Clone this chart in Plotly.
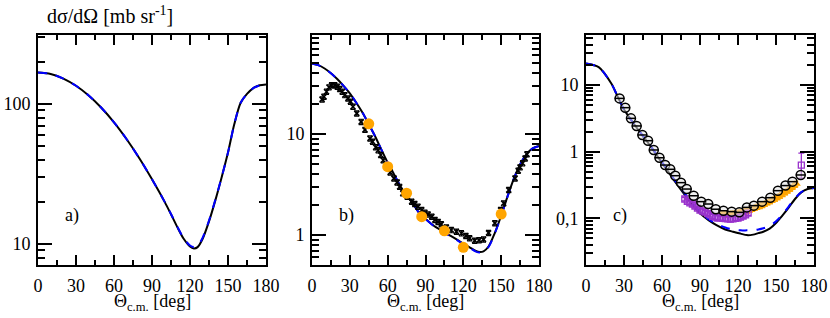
import plotly.graph_objects as go

# ---------------- data ----------------
# panel a) theory curves
a_theta = [0, 10, 20, 30, 40, 50, 60, 70, 80, 90, 100, 105, 110, 115, 120, 123, 126, 130, 135, 140, 145, 150, 155, 160, 165, 170, 175, 180]
a_black = [168, 164, 152, 135, 115, 94, 74, 56, 41, 29, 20, 16.3, 13.2, 10.9, 9.6, 9.3, 9.5, 10.9, 14.5, 20.5, 30, 45, 72, 102, 118, 130, 136, 138]
a_blue = [168, 164, 152, 135, 115, 94, 74, 56, 41, 29, 20, 16.4, 13.3, 11.0, 9.75, 9.5, 9.7, 11.1, 14.7, 20.7, 30, 45, 72, 102, 118, 130, 136, 138]

# panel b) theory curves
b_theta = [0, 5, 10, 15, 20, 25, 30, 35, 40, 45, 50, 55, 60, 65, 70, 75, 80, 85, 90, 95, 100, 105, 110, 115, 120, 125, 130, 133, 136, 140, 145, 150, 155, 160, 165, 170, 175, 180]
b_black = [50, 48, 44.5, 40, 35, 30, 25.3, 20.5, 16.3, 12.5, 9.5, 7.0, 5.2, 4.0, 3.05, 2.45, 2.05, 1.65, 1.45, 1.28, 1.16, 1.06, 0.98, 0.90, 0.82, 0.755, 0.695, 0.68, 0.69, 0.77, 1.05, 1.55, 2.4, 3.6, 5.0, 6.3, 7.2, 7.6]
b_blue = [50, 48, 44.5, 40, 35, 30, 25.3, 20.5, 16.3, 12.5, 9.5, 7.0, 5.2, 4.0, 3.05, 2.45, 2.05, 1.65, 1.44, 1.27, 1.15, 1.05, 0.97, 0.89, 0.81, 0.745, 0.685, 0.67, 0.68, 0.76, 1.04, 1.55, 2.4, 3.6, 5.0, 6.3, 7.2, 7.6]

# panel b) experimental data (crosses)
b_exp_theta = [8, 9.5, 11.5, 13.5, 15.5, 18, 20, 22, 24, 26, 28.5, 30.5, 32.5, 35.5, 39, 42, 46, 48, 50.5, 52.5, 54.5, 56.5, 59.5, 62, 65, 67.5, 69.5, 72, 75.5, 79, 81.5, 84, 87, 89.5, 92, 95, 97.5, 100, 102.5, 106.5, 110.5, 114.5, 118.5, 122, 125, 129, 132.5, 136, 140, 145, 149.5, 152, 156, 161, 163.5, 165, 167, 169, 170.5]
b_exp_val = [22.0, 23.4, 26.2, 29.0, 30.5, 30.5, 29.4, 27.9, 26.2, 24.3, 22.5, 20.9, 18.6, 16.0, 13.2, 11.0, 9.06, 8.4, 7.4, 6.9, 6.2, 5.5, 4.7, 4.17, 3.64, 3.32, 3.0, 2.59, 2.4, 2.14, 2.03, 1.91, 1.77, 1.66, 1.60, 1.52, 1.41, 1.35, 1.28, 1.19, 1.12, 1.08, 1.04, 0.98, 0.93, 0.88, 0.89, 0.906, 1.05, 1.31, 1.77, 2.06, 2.79, 3.64, 4.33, 4.68, 5.13, 5.74, 6.3]

# panel b) orange points
b_or_theta = [45, 60, 75, 87, 105, 120, 150]
b_or_val = [12.6, 4.75, 2.59, 1.52, 1.10, 0.755, 1.61]

# panel c) theory curves
c_theta = [0, 10, 20, 25, 30, 37.5, 45, 50, 57, 64, 70, 77, 84, 90, 97, 103, 110, 116, 122, 127, 132, 136, 140, 145, 150, 155, 160, 165, 170, 175, 180]
c_black = [21, 18.5, 10.5, 6.7, 4.3, 2.67, 1.7, 1.28, 0.82, 0.53, 0.36, 0.238, 0.16, 0.119, 0.093, 0.079, 0.068, 0.063, 0.059, 0.056, 0.057, 0.06, 0.063, 0.07, 0.085, 0.11, 0.145, 0.195, 0.245, 0.275, 0.285]
c_blue = [21, 18.5, 10.5, 6.7, 4.3, 2.67, 1.72, 1.30, 0.84, 0.55, 0.375, 0.25, 0.167, 0.124, 0.096, 0.083, 0.073, 0.068, 0.066, 0.066, 0.066, 0.068, 0.071, 0.077, 0.09, 0.113, 0.15, 0.2, 0.248, 0.275, 0.285]

# panel c) black circles
c_circ_theta = [26.5, 31, 35.5, 40, 44.5, 49, 53.5, 58, 62.5, 66.5, 70.5, 75, 79.5, 85, 91, 96.5, 102.5, 108.5, 115, 121, 127, 132.5, 139, 145.5, 151.5, 157.5, 163, 169.5]
c_circ_val = [6.3, 4.57, 3.16, 2.43, 1.78, 1.46, 1.06, 0.81, 0.63, 0.544, 0.436, 0.343, 0.275, 0.218, 0.178, 0.164, 0.137, 0.130, 0.126, 0.123, 0.146, 0.155, 0.178, 0.204, 0.26, 0.31, 0.355, 0.447]

# panel c) purple squares
c_pur_theta = [78, 80, 82, 84, 86, 88, 90, 92, 94, 96, 98, 100, 102, 104, 106, 108, 110, 112, 114, 116, 118, 120, 122, 124, 126, 128, 170]
c_pur_val = [0.195, 0.18, 0.17, 0.163, 0.153, 0.142, 0.133, 0.128, 0.124, 0.118, 0.113, 0.107, 0.104, 0.101, 0.102, 0.100, 0.099, 0.098, 0.097, 0.098, 0.100, 0.101, 0.104, 0.108, 0.113, 0.12, 0.63]
c_pur_errp = [0.012, 0.011, 0.011, 0.010, 0.010, 0.009, 0.009, 0.009, 0.008, 0.008, 0.008, 0.008, 0.008, 0.008, 0.008, 0.008, 0.008, 0.008, 0.008, 0.008, 0.008, 0.008, 0.008, 0.008, 0.009, 0.009, 0.32]
c_pur_errm = [0.012, 0.011, 0.011, 0.010, 0.010, 0.009, 0.009, 0.009, 0.008, 0.008, 0.008, 0.008, 0.008, 0.008, 0.008, 0.008, 0.008, 0.008, 0.008, 0.008, 0.008, 0.008, 0.008, 0.008, 0.009, 0.009, 0.23]

# panel c) orange triangles
c_or_theta = [106, 108, 110, 112, 114, 116, 118, 120, 122, 124, 126, 128, 130, 132, 134, 136, 138, 140, 142, 144, 146, 148, 150, 152, 154, 156, 158, 160, 162, 164, 166]
c_or_val = [0.118, 0.117, 0.116, 0.115, 0.116, 0.117, 0.118, 0.12, 0.122, 0.125, 0.128, 0.132, 0.136, 0.14, 0.145, 0.15, 0.155, 0.16, 0.168, 0.175, 0.183, 0.192, 0.2, 0.21, 0.222, 0.235, 0.25, 0.265, 0.285, 0.305, 0.33]

# axis tick labels
x_ticks = [0, 30, 60, 90, 120, 150, 180]
a_yticks = [10, 100]
a_yticktext = ["10", "100"]
b_yticks = [1, 10]
b_yticktext = ["1", "10"]
c_yticks = [0.1, 1, 10]
c_yticktext = ["0,1", "1", "10"]

# ---------------- figure ----------------
W, H = 830, 318
FONT = "Liberation Serif"
ORANGE = "#FFA500"
PURPLE = "#9932CC"
BLUE = "#0000FF"

fig = go.Figure()

def curve(x, y, color, dash, ax):
    fig.add_trace(go.Scatter(x=x, y=y, mode="lines", line=dict(color=color, width=2, dash=dash, shape="spline", smoothing=0.8),
                             xaxis="x" + ax, yaxis="y" + ax, showlegend=False, hoverinfo="skip"))

# panel a
curve(a_theta, a_black, "black", "solid", "")
curve(a_theta, a_blue, BLUE, "dash", "")

# panel b
curve(b_theta, b_black, "black", "solid", "2")
curve(b_theta, b_blue, BLUE, "dash", "2")
fig.add_trace(go.Scatter(x=b_exp_theta, y=b_exp_val, mode="markers",
                         marker=dict(symbol="x-thin", size=5, line=dict(color="black", width=1.6)),
                         error_y=dict(type="percent", value=6, color="black", thickness=1.2, width=2.5),
                         xaxis="x2", yaxis="y2", showlegend=False))
fig.add_trace(go.Scatter(x=b_or_theta, y=b_or_val, mode="markers",
                         marker=dict(symbol="circle", size=11, color=ORANGE, line=dict(width=0)),
                         xaxis="x2", yaxis="y2", showlegend=False))

# panel c
curve(c_theta, c_black, "black", "solid", "3")
curve(c_theta, c_blue, BLUE, "dash", "3")
fig.add_trace(go.Scatter(x=c_or_theta, y=c_or_val, mode="markers",
                         marker=dict(symbol="triangle-up", size=8, color=ORANGE, line=dict(width=0)),
                         error_y=dict(type="percent", value=9, color=ORANGE, thickness=1.5, width=2),
                         xaxis="x3", yaxis="y3", showlegend=False))
fig.add_trace(go.Scatter(x=c_pur_theta, y=c_pur_val, mode="markers",
                         marker=dict(symbol="square-open", size=6, color=PURPLE, line=dict(color=PURPLE, width=1.3)),
                         error_y=dict(type="data", array=c_pur_errp, arrayminus=c_pur_errm, color=PURPLE, thickness=1.3, width=3),
                         xaxis="x3", yaxis="y3", showlegend=False))
fig.add_trace(go.Scatter(x=c_circ_theta, y=c_circ_val, mode="markers",
                         marker=dict(symbol="circle", size=9, color="rgba(225,225,225,0.55)", line=dict(color="black", width=1.5)),
                         xaxis="x3", yaxis="y3", showlegend=False))
fig.add_trace(go.Scatter(x=c_circ_theta, y=c_circ_val, mode="markers",
                         marker=dict(symbol="line-ew", size=7, line=dict(color="black", width=1.5)),
                         xaxis="x3", yaxis="y3", showlegend=False))

# ---------------- axes ----------------
def px_x(a, b):
    return [a / W, b / W]

ydom = [1 - 265 / H, 1 - 35 / H]
xdoms = [px_x(38, 266), px_x(312, 539), px_x(586, 814)]

tickfont = dict(family=FONT, size=18, color="black")

def xaxis(dom, anchor):
    return dict(domain=dom, anchor=anchor, range=[0, 180], tickmode="array", tickvals=x_ticks,
                ticks="inside", ticklen=10, tickwidth=1.5, tickcolor="black",
                minor=dict(ticks="inside", ticklen=5, tickwidth=1.5, tickcolor="black", tickmode="linear", tick0=0, dtick=15),
                showline=True, linewidth=1.8, linecolor="black", mirror="allticks", automargin=False,
                showgrid=False, zeroline=False, tickfont=tickfont, ticklabelstandoff=3)

def minor_vals(lo_exp, hi_exp):
    return [m * 10 ** e for e in range(lo_exp, hi_exp) for m in range(2, 10)]

def yaxis(dom, anchor, rng, tv, tt, minors):
    return dict(domain=dom, anchor=anchor, type="log", range=rng, tickmode="array", tickvals=tv, ticktext=tt,
                ticks="inside", ticklen=14, tickwidth=1.5, tickcolor="black",
                minor=dict(ticks="inside", ticklen=7, tickwidth=1.5, tickcolor="black", tickmode="array", tickvals=minors),
                showline=True, linewidth=1.8, linecolor="black", mirror="allticks", automargin=False,
                showgrid=False, zeroline=False, tickfont=tickfont, ticklabelstandoff=2)

fig.update_layout(
    template="none",
    width=W, height=H,
    margin=dict(l=0, r=0, t=0, b=0, pad=0, autoexpand=False),
    paper_bgcolor="white", plot_bgcolor="white",
    font=dict(family=FONT, color="black"),
    xaxis=xaxis(xdoms[0], "y"),
    xaxis2=xaxis(xdoms[1], "y2"),
    xaxis3=xaxis(xdoms[2], "y3"),
    yaxis=yaxis(ydom, "x", [0.85, 2.493], a_yticks, a_yticktext, minor_vals(0, 3)),
    yaxis2=yaxis(ydom, "x2", [-0.297, 1.98], b_yticks, b_yticktext, minor_vals(-1, 2)),
    yaxis3=yaxis(ydom, "x3", [-1.7, 1.75], c_yticks, c_yticktext, minor_vals(-2, 2)),
)

annots = [
    dict(text="dσ/dΩ [mb sr<sup>-1</sup>]", x=45 / W, y=1 - 15 / H, xanchor="left", yanchor="middle", size=20),
    dict(text="a)", x=72 / W, y=1 - 215 / H, xanchor="center", yanchor="middle", size=18),
    dict(text="b)", x=346 / W, y=1 - 215 / H, xanchor="center", yanchor="middle", size=18),
    dict(text="c)", x=620 / W, y=1 - 215 / H, xanchor="center", yanchor="middle", size=18),
]
for xd in xdoms:
    annots.append(dict(text="Θ<sub>c.m.</sub> [deg]", x=(xd[0] + xd[1]) / 2, y=1 - 302 / H,
                       xanchor="center", yanchor="middle", size=18))
for a in annots:
    fig.add_annotation(text=a["text"], x=a["x"], y=a["y"], xref="paper", yref="paper",
                       xanchor=a["xanchor"], yanchor=a["yanchor"], showarrow=False,
                       font=dict(family=FONT, size=a["size"], color="black"))

fig.write_html("out.html", config={"displayModeBar": False},
               post_script="document.body.style.margin='0px';document.body.style.padding='0px';")
